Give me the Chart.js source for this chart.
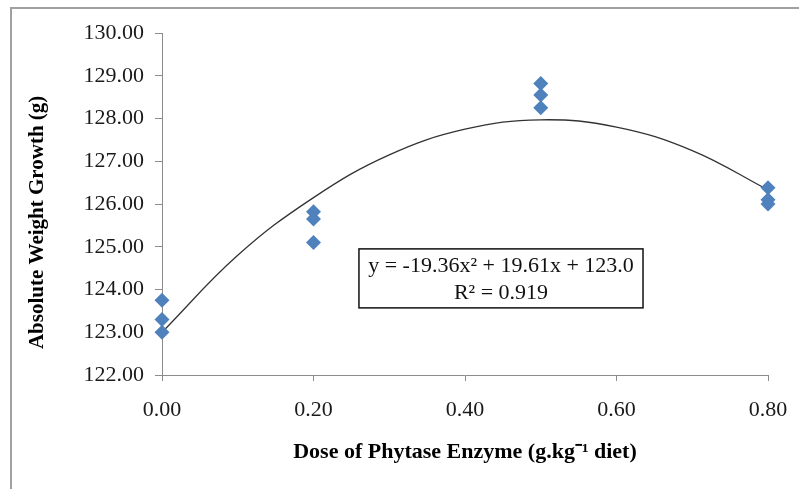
<!DOCTYPE html>
<html>
<head>
<meta charset="utf-8">
<script src="https://cdn.jsdelivr.net/npm/chart.js@4.4.0/dist/chart.umd.min.js"></script>
<style>
  html, body { margin: 0; padding: 0; background: #fff; }
  #wrap { width: 799px; height: 489px; position: relative; }
</style>
</head>
<body>
<div id="wrap"><canvas id="grafico" width="799" height="489"></canvas></div>
<script>
// dose levels (g/kg diet) and the three replicates measured at each
const doses = [0, 0.2, 0.5, 0.8];
const rep1 = [123.75, 125.82, 128.82, 126.38];
const rep2 = [123.30, 125.65, 128.55, 126.10];
const rep3 = [123.00, 125.10, 128.25, 126.00];

// polynomial trend line
const trendX = [0, 0.1, 0.2, 0.3, 0.4, 0.5, 0.6, 0.7, 0.8];
const trendY = [123.0, 124.8, 126.15, 127.15, 127.75, 127.97, 127.8, 127.25, 126.33];

const yTicks = [122, 123, 124, 125, 126, 127, 128, 129, 130];
const xTicks = [0, 0.2, 0.4, 0.6, 0.8];

const eqLines = ["y = -19.36x² + 19.61x + 123.0", "R² = 0.919"];

const pontos = [];
doses.forEach((d, i) => {
  pontos.push({ x: d, y: rep1[i] });
  pontos.push({ x: d, y: rep2[i] });
  pontos.push({ x: d, y: rep3[i] });
});
const curva = trendX.map((x, i) => ({ x: x, y: trendY[i] }));

const serif = "'Liberation Serif', 'Times New Roman', serif";
// trailing nbsp pushes the rotated title a bit down, like the original
const yTitle = "Absolute Weight Growth (g)" + "\u00a0".repeat(7);

// outer frame + equation box
const extras = {
  id: "extras",
  beforeDraw(chart) {
    const c = chart.ctx;
    c.save();
    c.strokeStyle = "#a0a0a0";
    c.lineWidth = 2;
    c.beginPath();
    c.moveTo(11, 489);
    c.lineTo(11, 8);
    c.lineTo(799, 8);
    c.stroke();
    c.restore();
  },
  afterDraw(chart) {
    const c = chart.ctx;
    const xs = chart.scales.x;
    const ys = chart.scales.y;
    // box anchored in data space
    const left = xs.getPixelForValue(0.26);
    const right = xs.getPixelForValue(0.635);
    const top = ys.getPixelForValue(124.95);
    const bottom = ys.getPixelForValue(123.57);
    c.save();
    c.fillStyle = "#fff";
    c.fillRect(left, top, right - left, bottom - top);
    c.strokeStyle = "#111";
    c.lineWidth = 1.5;
    c.strokeRect(left, top, right - left, bottom - top);
    c.fillStyle = "#111";
    c.font = "22px " + serif;
    c.textAlign = "center";
    c.textBaseline = "middle";
    const cx = (left + right) / 2;
    c.fillText(eqLines[0], cx, top + 17);
    c.fillText(eqLines[1], cx, top + 44);
    c.restore();
  }
};

new Chart(document.getElementById("grafico"), {
  type: "scatter",
  data: {
    datasets: [
      {
        label: "Trend",
        type: "line",
        data: curva,
        borderColor: "#333",
        borderWidth: 1.3,
        pointRadius: 0,
        tension: 0.4,
        fill: false,
        order: 2
      },
      {
        label: "Absolute weight growth",
        data: pontos,
        pointStyle: "rectRot",
        pointRadius: 7.5,
        pointHoverRadius: 7.5,
        backgroundColor: "#4F81BD",
        borderColor: "#4F81BD",
        borderWidth: 0,
        clip: false,
        order: 1
      }
    ]
  },
  options: {
    responsive: false,
    animation: false,
    layout: { padding: { left: 12, top: 33, right: 31, bottom: 23 } },
    plugins: {
      legend: { display: false },
      tooltip: { enabled: false }
    },
    scales: {
      x: {
        type: "linear",
        min: 0,
        max: 0.8,
        afterBuildTicks: (s) => { s.ticks = xTicks.map(v => ({ value: v })); },
        afterFit: (s) => { s.height = 91; s.paddingLeft = 0; s.paddingRight = 0; },
        ticks: {
          color: "#1a1a1a",
          padding: 16,
          font: { family: serif, size: 22 },
          callback: (v) => Number(v).toFixed(2)
        },
        grid: { drawOnChartArea: false, drawTicks: true, tickLength: 6, color: "#8c8c8c" },
        border: { color: "#8c8c8c" },
        title: {
          display: true,
          text: "Dose of Phytase Enzyme (g.kg⁻¹ diet)",
          color: "#000",
          padding: 0,
          font: { family: serif, size: 22, weight: "bold" }
        }
      },
      y: {
        type: "linear",
        min: 122,
        max: 130,
        afterBuildTicks: (s) => { s.ticks = yTicks.map(v => ({ value: v })); },
        afterFit: (s) => { s.width = 150; },
        ticks: {
          color: "#1a1a1a",
          padding: 11,
          font: { family: serif, size: 22 },
          callback: (v) => Number(v).toFixed(2)
        },
        grid: { drawOnChartArea: false, drawTicks: true, tickLength: 7, color: "#8c8c8c" },
        border: { color: "#8c8c8c" },
        title: {
          display: true,
          text: yTitle,
          color: "#000",
          padding: { top: 13, bottom: 0 },
          font: { family: serif, size: 21, weight: "bold" }
        }
      }
    }
  },
  plugins: [extras]
});
</script>
</body>
</html>
